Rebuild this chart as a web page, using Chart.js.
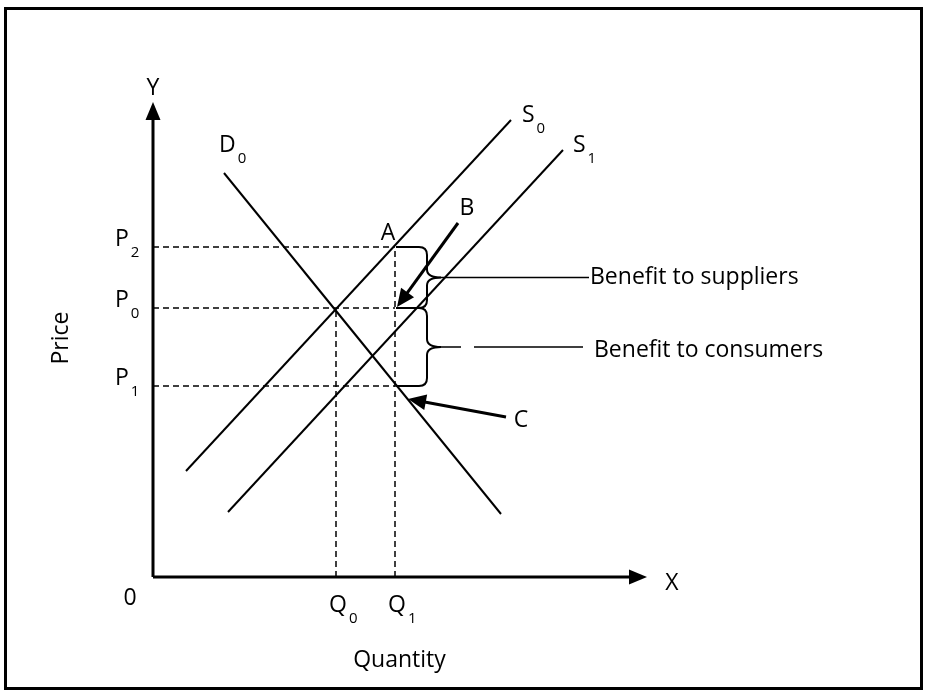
<!DOCTYPE html>
<html>
<head>
<meta charset="utf-8">
<script src="https://cdn.jsdelivr.net/npm/chart.js@4.4.1/dist/chart.umd.min.js"></script>
<style>
  body { margin: 0; background: #fff; }
  #wrap { position: relative; width: 927px; height: 696px; }
  #frame { position: absolute; left: 4px; top: 7px; width: 913px; height: 677px; border: 3px solid #000; pointer-events: none; }
  canvas { position: absolute; left: 0; top: 0; }
</style>
</head>
<body>
<div id="wrap">
  <canvas id="diagram" width="927" height="696"></canvas>
  <div id="frame"></div>
</div>
<script>
// price and quantity levels (same units as the curves)
const priceLabels = ['P2', 'P0', 'P1'];
const priceLevels = [330, 269, 191];
const quantityLabels = ['Q0', 'Q1'];
const quantityLevels = [183, 242];

// curve end points [quantity, price]
const demandD0 = [[71, 404], [348, 63]];
const supplyS0 = [[33, 106], [358, 457]];
const supplyS1 = [[75, 65], [410, 427]];

// axis lengths
const yAxisTop = 475;
const xAxisEnd = 494;

const FONT = '"Open Sans", "Liberation Sans", sans-serif';
const pts = arr => arr.map(p => ({ x: p[0], y: p[1] }));

const P = {};
priceLabels.forEach((l, i) => P[l] = priceLevels[i]);
const Q = {};
quantityLabels.forEach((l, i) => Q[l] = quantityLevels[i]);

function solid(data, width) {
    return { data: data, showLine: true, borderColor: '#000', borderWidth: width, pointRadius: 0, fill: false };
}
function dashed(data) {
    return { data: data, showLine: true, borderColor: '#000', borderWidth: 1.5, borderDash: [6, 4], pointRadius: 0, fill: false };
}

const datasets = [
    solid(pts([[0, 0], [0, yAxisTop - 10]]), 3),
    solid(pts([[0, 0], [xAxisEnd - 10, 0]]), 3),
    solid(pts(demandD0), 2),
    solid(pts(supplyS0), 2),
    solid(pts(supplyS1), 2),
    dashed(pts([[0, P.P2], [Q.Q1, P.P2]])),
    dashed(pts([[0, P.P0], [Q.Q1, P.P0]])),
    dashed(pts([[0, P.P1], [Q.Q1, P.P1]])),
    dashed(pts([[Q.Q0, 0], [Q.Q0, P.P0]])),
    dashed(pts([[Q.Q1, 0], [Q.Q1, P.P2]]))
];

function arrowHead(ctx, x1, y1, x2, y2, len, half) {
    const a = Math.atan2(y2 - y1, x2 - x1);
    ctx.beginPath();
    ctx.moveTo(x2, y2);
    ctx.lineTo(x2 - len * Math.cos(a) + half * Math.sin(a), y2 - len * Math.sin(a) - half * Math.cos(a));
    ctx.lineTo(x2 - len * Math.cos(a) - half * Math.sin(a), y2 - len * Math.sin(a) + half * Math.cos(a));
    ctx.closePath();
    ctx.fill();
}

function arrow(ctx, x1, y1, x2, y2) {
    ctx.beginPath();
    ctx.moveTo(x1, y1);
    const a = Math.atan2(y2 - y1, x2 - x1);
    ctx.lineTo(x2 - 10 * Math.cos(a), y2 - 10 * Math.sin(a));
    ctx.stroke();
    arrowHead(ctx, x1, y1, x2, y2, 18, 8);
}

// curly brace opening to the left, tip pointing right
function brace(ctx, x0, top, bottom, xs, tip) {
    const mid = (top + bottom) / 2;
    ctx.beginPath();
    ctx.moveTo(x0, top);
    ctx.lineTo(xs - 8, top);
    ctx.quadraticCurveTo(xs, top, xs, top + 8);
    ctx.lineTo(xs, mid - 8);
    ctx.quadraticCurveTo(xs, mid, tip, mid);
    ctx.quadraticCurveTo(xs, mid, xs, mid + 8);
    ctx.lineTo(xs, bottom - 8);
    ctx.quadraticCurveTo(xs, bottom, xs - 8, bottom);
    ctx.lineTo(x0, bottom);
    ctx.stroke();
}

// text with an optional subscript; x is the left edge unless align is 'center'
function label(ctx, main, sub, x, y, align) {
    ctx.font = '23px ' + FONT;
    ctx.textBaseline = 'middle';
    ctx.textAlign = 'left';
    const w = ctx.measureText(main).width;
    const x0 = align === 'center' ? x - w / 2 : x;
    ctx.fillText(main, x0, y);
    if (sub) {
        ctx.font = '15px ' + FONT;
        ctx.fillText(sub, x0 + w + 2, y + 14);
    }
}

const annotations = {
    id: 'annotations',
    afterDatasetsDraw(chart) {
        const { ctx, scales: { x, y } } = chart;
        const px = v => x.getPixelForValue(v);
        const py = v => y.getPixelForValue(v);
        ctx.save();
        ctx.fillStyle = '#000';
        ctx.strokeStyle = '#000';
        ctx.lineCap = 'butt';

        // axis arrow heads
        arrowHead(ctx, px(0), py(0), px(0), py(yAxisTop), 18, 7.5);
        arrowHead(ctx, px(0), py(0), px(xAxisEnd), py(0), 18, 7.5);

        // braces
        ctx.lineWidth = 2;
        const q1 = px(Q.Q1);
        brace(ctx, q1 + 1, py(P.P2), py(P.P0), q1 + 32, q1 + 46);
        brace(ctx, q1 + 1, py(P.P0), py(P.P1), q1 + 32, q1 + 46);

        // leader lines to the benefit labels
        ctx.lineWidth = 1.5;
        const yUp = (py(P.P2) + py(P.P0)) / 2;
        const yLo = (py(P.P0) + py(P.P1)) / 2;
        ctx.beginPath();
        ctx.moveTo(q1 + 40, yUp); ctx.lineTo(q1 + 194, yUp);
        ctx.moveTo(q1 + 44, yLo); ctx.lineTo(q1 + 66, yLo);
        ctx.moveTo(q1 + 79, yLo); ctx.lineTo(q1 + 188, yLo);
        ctx.stroke();

        // pointers to B and C
        ctx.lineWidth = 3;
        arrow(ctx, q1 + 63, py(P.P0) - 85, q1 + 2, py(P.P0) - 1);
        arrow(ctx, q1 + 111, py(P.P1) + 31, q1 + 13, py(P.P1) + 13);

        // text
        label(ctx, 'Y', null, px(0), py(yAxisTop) - 14, 'center');
        label(ctx, 'X', null, px(xAxisEnd) + 25, py(0) + 6, 'center');
        label(ctx, '0', null, px(0) - 23, py(0) + 21, 'center');
        priceLabels.forEach((l, i) => label(ctx, l[0], l[1], px(0) - 38, py(priceLevels[i]) - 8));
        quantityLabels.forEach((l, i) => label(ctx, l[0], l[1], px(quantityLevels[i]) - 7, py(0) + 28));
        label(ctx, 'D', '0', px(demandD0[0][0]) - 5, py(demandD0[0][1]) - 28);
        label(ctx, 'S', '0', px(supplyS0[1][0]) + 11, py(supplyS0[1][1]) - 5);
        label(ctx, 'S', '1', px(supplyS1[1][0]) + 10, py(supplyS1[1][1]) - 5);
        label(ctx, 'A', null, q1 - 7, py(P.P2) - 14, 'center');
        label(ctx, 'B', null, q1 + 72, py(P.P0) - 100, 'center');
        label(ctx, 'C', null, q1 + 126, py(P.P1) + 34, 'center');
        label(ctx, 'Benefit to suppliers', null, q1 + 195, yUp);
        label(ctx, 'Benefit to consumers', null, q1 + 199, yLo + 3);

        ctx.font = '23px ' + FONT;
        ctx.textAlign = 'center';
        ctx.textBaseline = 'middle';
        ctx.fillText('Quantity', px((Q.Q0 + Q.Q1) / 2 + 34), py(0) + 83);
        ctx.translate(px(0) - 92, py((P.P0 + P.P1) / 2) - 9);
        ctx.rotate(-Math.PI / 2);
        ctx.fillText('Price', 0, 0);
        ctx.restore();
    }
};

new Chart(document.getElementById('diagram'), {
    type: 'scatter',
    data: { datasets: datasets },
    options: {
        responsive: false,
        animation: false,
        devicePixelRatio: 1,
        layout: { padding: 0 },
        plugins: { legend: { display: false }, tooltip: { enabled: false } },
        scales: {
            x: { type: 'linear', min: -153, max: 774, display: false },
            y: { type: 'linear', min: -119, max: 577, display: false }
        }
    },
    plugins: [annotations]
});
</script>
</body>
</html>
